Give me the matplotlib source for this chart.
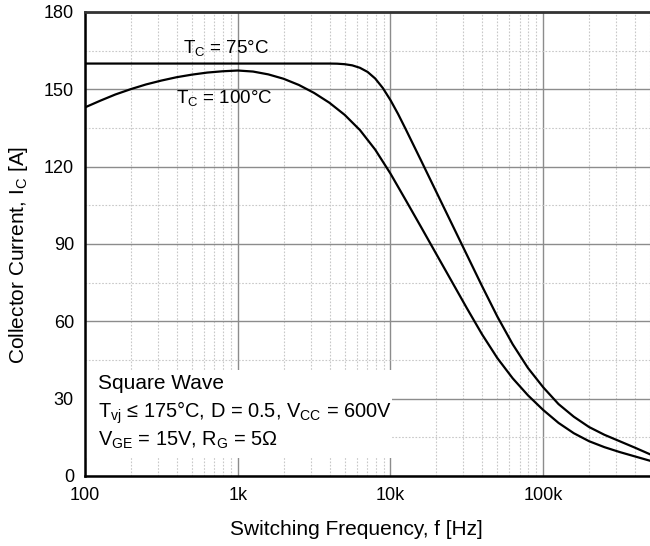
import matplotlib

matplotlib.use("Agg")
import matplotlib.pyplot as plt
from matplotlib.patches import Rectangle
from matplotlib.ticker import FixedLocator, LogLocator, NullFormatter

plt.rcParams["font.family"] = ["Liberation Sans", "DejaVu Sans"]
plt.rcParams["mathtext.fontset"] = "custom"
plt.rcParams["mathtext.rm"] = "Liberation Sans"
plt.rcParams["mathtext.it"] = "Liberation Sans"

# Tc = 75 C curve
freq_75 = [100, 1000, 3980, 4470, 5010, 5620, 6310, 7080, 7940, 8910, 10000,
           11220, 12590, 15850, 19950, 25120, 31620, 39810, 50120, 63100, 79430,
           100000, 125900, 158500, 199500, 251200, 316200, 398100, 501200]
ic_75 = [160, 160, 160, 159.95, 159.75, 159.3, 158.35, 156.75, 154.2, 150.5, 145.8,
         140.4, 134.5, 122.4, 110.2, 98.0, 85.8, 73.6, 61.8, 51.1, 41.9,
         34.4, 27.9, 23.0, 19.0, 16.0, 13.5, 11.0, 8.4]

# Tc = 100 C curve
freq_100 = [100, 126, 158, 200, 251, 316, 398, 501, 631, 794, 1000,
            1259, 1585, 1995, 2512, 3162, 3981, 5012, 6310, 7943, 10000,
            12590, 15850, 19950, 25120, 31620, 39810, 50120, 63100, 79430, 100000,
            125900, 158500, 199500, 251200, 316200, 398100, 501200]
ic_100 = [143.0, 145.6, 148.0, 150.1, 151.9, 153.4, 154.7, 155.7, 156.5, 157.0, 157.3,
          156.9, 155.8, 154.1, 151.7, 148.6, 144.8, 140.1, 134.2, 126.6, 117.3,
          107.0, 96.6, 86.1, 75.6, 65.1, 54.9, 45.7, 37.9, 31.3, 25.6,
          20.6, 16.6, 13.5, 11.2, 9.3, 7.6, 5.9]

x_ticks = [100, 1000, 10000, 100000]
x_ticklabels = ["100", "1k", "10k", "100k"]
y_ticks = [0, 30, 60, 90, 120, 150, 180]
y_minor = [15, 45, 75, 105, 135, 165]

fig = plt.figure(figsize=(6.5, 5.46), dpi=100)
ax = fig.add_axes([85 / 650, 1 - 476 / 546, 565 / 650, 464 / 546])

ax.plot(freq_75, ic_75, color="black", lw=1.6, zorder=3)
ax.plot(freq_100, ic_100, color="black", lw=1.6, zorder=3)

ax.set_xscale("log")
ax.set_xlim(100, 500000)
ax.set_ylim(0, 180)

ax.xaxis.set_major_locator(FixedLocator(x_ticks))
ax.set_xticklabels(x_ticklabels)
ax.xaxis.set_minor_locator(LogLocator(base=10, subs=range(2, 10)))
ax.xaxis.set_minor_formatter(NullFormatter())
ax.set_yticks(y_ticks)
ax.yaxis.set_minor_locator(FixedLocator(y_minor))

ax.grid(which="major", color="#8c8c8c", lw=1.0, ls="-")
ax.grid(which="minor", color="#c8c8c8", lw=0.8, ls=(0, (1.5, 1.5)))
ax.set_axisbelow(True)

ax.tick_params(which="both", length=0)
ax.tick_params(axis="x", labelsize=13, pad=8)
ax.tick_params(axis="y", labelsize=13, pad=8)

for side in ["left", "bottom"]:
    ax.spines[side].set_color("black")
    ax.spines[side].set_linewidth(1.8)
ax.spines["top"].set_color("#333333")
ax.spines["top"].set_linewidth(2.0)
ax.spines["right"].set_visible(False)

ax.set_xlabel("Switching Frequency, f [Hz]", fontsize=15, labelpad=12)
ax.xaxis.set_label_coords(0.481, -0.095)
ax.set_ylabel(r"Collector Current, I$_\mathregular{C}$ [A]", fontsize=15)
ax.yaxis.set_label_coords(-0.098, 0.476)

# curve labels
ax.text(437, 164.2, r"T$_\mathregular{C}$ = 75°C", fontsize=13.5, va="baseline", zorder=4)
ax.text(397, 144.6, r"T$_\mathregular{C}$ = 100°C", fontsize=13.5, va="baseline", zorder=4)

# conditions box
ax.add_patch(Rectangle((0, 0.039), 0.543, 0.19, transform=ax.transAxes,
                       facecolor="white", edgecolor="none", zorder=2))
tx = 0.0235
ax.text(tx, (476 - 389.3) / 464, "Square Wave", transform=ax.transAxes,
        fontsize=15, va="baseline", zorder=4)
ax.text(tx, (476 - 417.3) / 464,
        r"T$_\mathregular{vj}$ ≤ 175°C, D = 0.5, V$_\mathregular{CC}$ = 600V",
        transform=ax.transAxes, fontsize=14.4, va="baseline", zorder=4)
ax.text(tx, (476 - 446) / 464,
        r"V$_\mathregular{GE}$ = 15V, R$_\mathregular{G}$ = 5Ω",
        transform=ax.transAxes, fontsize=14.4, va="baseline", zorder=4)

fig.savefig("out.png", dpi=100, facecolor="white")
